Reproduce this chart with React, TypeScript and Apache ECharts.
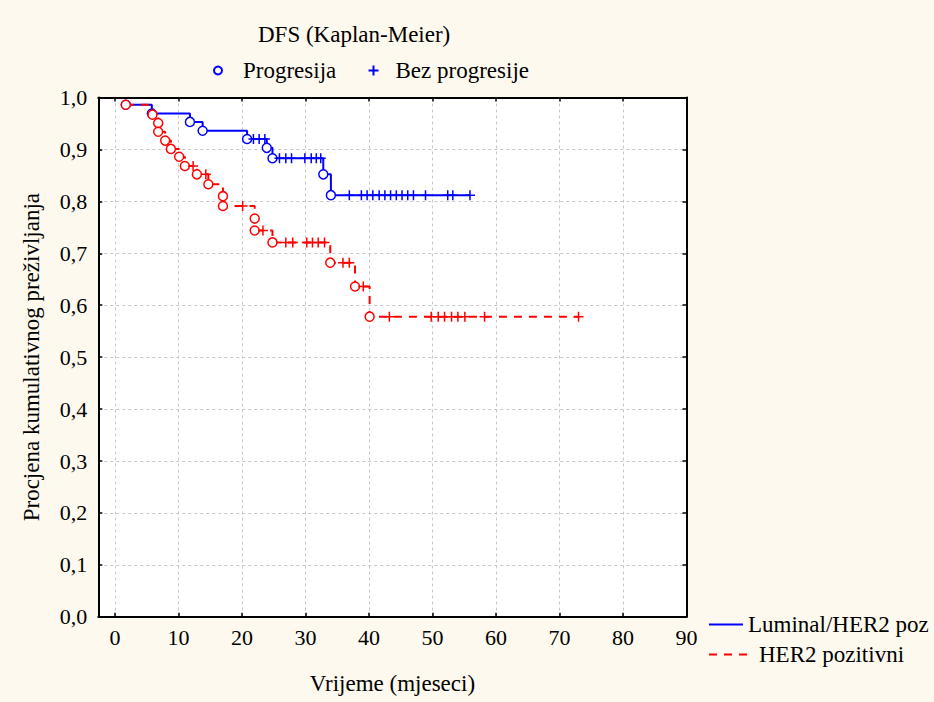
import React, { useEffect, useRef } from "react";
import * as echarts from "echarts";

// Tick values
const xTicks = [0, 10, 20, 30, 40, 50, 60, 70, 80, 90];

// Luminal/HER2 poz (blue) — events (Progresija) and censored (Bez progresije)
const lumEventT = [1.7, 5.8, 11.8, 13.8, 20.8, 23.9, 24.8, 32.8, 34.0];
const lumEventS = [0.986, 0.969, 0.953, 0.936, 0.92, 0.903, 0.883, 0.852, 0.812];
const lumCensT = [
  21.8, 22.7, 23.6, 25.9, 26.9, 27.8, 29.9, 30.9, 31.7, 32.4, 36.9, 38.8, 39.7, 40.6, 41.6, 42.5,
  43.4, 44.3, 45.2, 46.1, 47.0, 48.9, 52.4, 53.2, 55.9,
];
const lumCensS = [
  0.92, 0.92, 0.92, 0.883, 0.883, 0.883, 0.883, 0.883, 0.883, 0.883, 0.812, 0.812, 0.812, 0.812,
  0.812, 0.812, 0.812, 0.812, 0.812, 0.812, 0.812, 0.812, 0.812, 0.812, 0.812,
];

// HER2 pozitivni (red)
const herEventT = [1.7, 5.9, 6.8, 6.8, 7.9, 8.8, 10.1, 11.0, 12.9, 14.7, 17.0, 17.0, 22.0, 22.0, 24.8, 33.9, 37.8, 40.1];
const herEventS = [
  0.986, 0.967, 0.951, 0.934, 0.917, 0.901, 0.886, 0.868, 0.852, 0.833, 0.81, 0.791, 0.767, 0.744,
  0.721, 0.682, 0.636, 0.578,
];
const herCensT = [
  12.3, 14.3, 20.1, 23.3, 26.9, 28.0, 30.2, 31.1, 32.0, 33.0, 35.9, 36.9, 39.1, 43.2, 49.8, 50.9,
  51.9, 53.0, 54.0, 55.1, 58.2, 73.0,
];
const herCensS = [
  0.868, 0.852, 0.791, 0.744, 0.721, 0.721, 0.721, 0.721, 0.721, 0.721, 0.682, 0.682, 0.636, 0.578,
  0.578, 0.578, 0.578, 0.578, 0.578, 0.578, 0.578, 0.578,
];

const BLUE = "#0000ff";
const RED = "#ff0000";
const FONT = '"Liberation Serif", "Times New Roman", serif';
const PLUS = "path://M5,0L5,10M0,5L10,5";

function pairs(t: number[], s: number[]) {
  return t.map((v, i) => [v, s[i]]);
}
function merged(et: number[], es: number[], ct: number[], cs: number[]) {
  const pts = pairs(et, es).concat(pairs(ct, cs));
  pts.sort((a, b) => a[0] - b[0]);
  return pts;
}

export default function App() {
  const ref = useRef<HTMLDivElement>(null);
  useEffect(() => {
    const chart = echarts.init(ref.current!, null, { renderer: "svg" });
    const tick = { fontFamily: FONT, fontSize: 22, color: "#000" };
    const txt = { fontFamily: FONT, fontSize: 23, color: "#000" };
    const hideSym = { color: "rgba(0,0,0,0)", borderWidth: 0, opacity: 0 };
    const xMin = -2.63;
    const option: any = {
      animation: false,
      backgroundColor: "#fdf9ee",
      textStyle: { fontFamily: FONT },
      title: {
        text: "DFS (Kaplan-Meier)",
        left: 258,
        top: 23,
        padding: 0,
        textStyle: { ...txt, fontWeight: "normal" },
      },
      legend: [
        {
          data: [{ name: "Progresija", icon: "circle" }],
          left: 213,
          top: 59,
          padding: 0,
          itemWidth: 40,
          itemHeight: 8,
          selectedMode: false,
          textStyle: txt,
        },
        {
          data: [{ name: "Bez progresije", icon: PLUS }],
          left: 366,
          top: 59,
          padding: 0,
          itemWidth: 34,
          itemHeight: 10,
          selectedMode: false,
          textStyle: txt,
        },
        {
          data: ["Luminal/HER2 poz"],
          left: 708,
          top: 613,
          padding: 0,
          itemWidth: 34,
          itemHeight: 10,
          selectedMode: false,
          itemStyle: hideSym,
          textStyle: txt,
        },
        {
          data: ["HER2 pozitivni"],
          left: 708,
          top: 643,
          padding: 0,
          itemWidth: 40,
          itemHeight: 10,
          selectedMode: false,
          itemStyle: hideSym,
          textStyle: { ...txt, padding: [0, 0, 0, 5] },
        },
      ],
      grid: {
        left: 98.3,
        top: 97.5,
        right: 934 - 686.5,
        bottom: 702 - 616.8,
        show: true,
        backgroundColor: "#ffffff",
        borderWidth: 0,
      },
      xAxis: [
        {
          type: "value",
          min: xMin,
          max: 90,
          position: "bottom",
          axisLine: { show: true, onZero: false, lineStyle: { color: "#000", width: 2 } },
          axisTick: { show: true, inside: true, length: 4, customValues: xTicks, lineStyle: { color: "#000", width: 1.5 } },
          axisLabel: { customValues: xTicks, margin: 10, ...tick },
          splitLine: { show: true, lineStyle: { color: "#c8c8c8", type: [3, 3], width: 1 } },
          name: "Vrijeme (mjeseci)",
          nameLocation: "middle",
          nameGap: 55,
          nameTextStyle: txt,
        },
        {
          type: "value",
          min: xMin,
          max: 90,
          position: "top",
          axisLine: { show: true, onZero: false, lineStyle: { color: "#000", width: 2 } },
          axisTick: { show: true, inside: true, length: 4, customValues: xTicks, lineStyle: { color: "#000", width: 1.5 } },
          axisLabel: { show: false, customValues: xTicks },
          splitLine: { show: false },
        },
      ],
      yAxis: [
        {
          type: "value",
          min: 0,
          max: 1,
          interval: 0.1,
          position: "left",
          axisLine: { show: true, onZero: false, lineStyle: { color: "#000", width: 2 } },
          axisTick: { show: true, inside: true, length: 4, lineStyle: { color: "#000", width: 1.5 } },
          axisLabel: {
            margin: 11,
            ...tick,
            formatter: (v: number) => v.toFixed(1).replace(".", ","),
          },
          splitLine: { show: true, lineStyle: { color: "#c8c8c8", type: [3, 3], width: 1 } },
          name: "Procjena kumulativnog preživljanja",
          nameLocation: "middle",
          nameGap: 55,
          nameTextStyle: txt,
        },
        {
          type: "value",
          min: 0,
          max: 1,
          interval: 0.1,
          position: "right",
          axisLine: { show: true, onZero: false, lineStyle: { color: "#000", width: 2 } },
          axisTick: { show: true, inside: true, length: 4, lineStyle: { color: "#000", width: 1.5 } },
          axisLabel: { show: false },
          splitLine: { show: false },
        },
      ],
      series: [
        {
          name: "Luminal/HER2 poz",
          type: "line",
          step: "end",
          data: merged(lumEventT, lumEventS, lumCensT, lumCensS),
          symbol: "none",
          silent: true,
          lineStyle: { color: BLUE, width: 2 },
          itemStyle: { color: BLUE },
          z: 2,
        },
        {
          name: "HER2 pozitivni",
          type: "line",
          step: "end",
          data: merged(herEventT, herEventS, herCensT, herCensS),
          symbol: "none",
          silent: true,
          lineStyle: { color: RED, width: 2, type: [8, 7] },
          itemStyle: { color: RED },
          z: 3,
        },
        {
          name: "Progresija",
          type: "scatter",
          data: pairs(lumEventT, lumEventS),
          symbol: "circle",
          symbolSize: 9,
          silent: true,
          itemStyle: { color: "#ffffff", borderColor: BLUE, borderWidth: 1.5, opacity: 1 },
          z: 4,
        },
        {
          name: "Bez progresije",
          type: "scatter",
          data: pairs(lumCensT, lumCensS),
          symbol: PLUS,
          symbolSize: 10,
          silent: true,
          itemStyle: { color: "none", borderColor: BLUE, borderWidth: 1.5, opacity: 1 },
          z: 4,
        },
        {
          name: "Progresija",
          type: "scatter",
          data: pairs(herEventT, herEventS),
          symbol: "circle",
          symbolSize: 9,
          silent: true,
          itemStyle: { color: "#ffffff", borderColor: RED, borderWidth: 1.5, opacity: 1 },
          z: 5,
        },
        {
          name: "Bez progresije",
          type: "scatter",
          data: pairs(herCensT, herCensS),
          symbol: PLUS,
          symbolSize: 10,
          silent: true,
          itemStyle: { color: "none", borderColor: RED, borderWidth: 1.5, opacity: 1 },
          z: 5,
        },
      ],
    };
    chart.setOption(option);
    return () => chart.dispose();
  }, []);
  return (
    <div
      ref={ref}
      style={{ position: "absolute", left: 0, top: 0, width: 934, height: 702 }}
    />
  );
}
